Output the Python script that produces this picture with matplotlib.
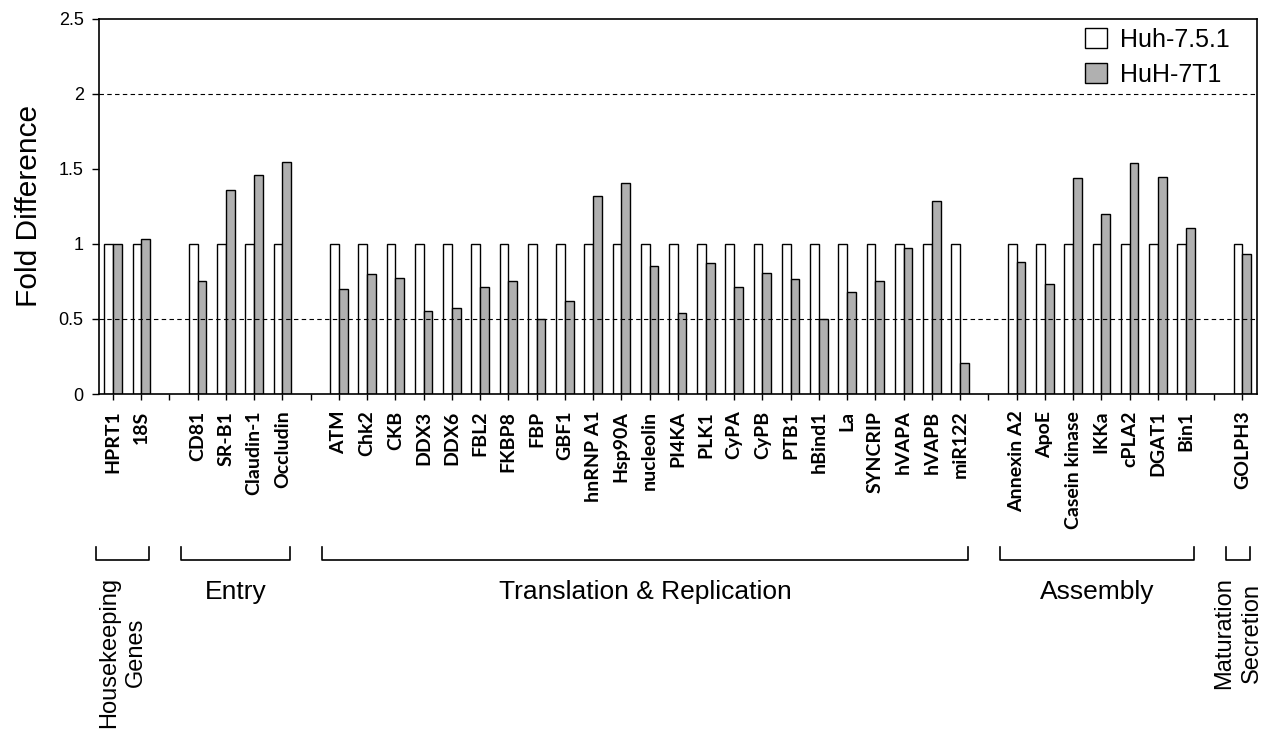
import numpy as np
import matplotlib.pyplot as plt

nan = np.nan

# gene slots, '' marks the empty gap between groups
genes = ['HPRT1', '18S', '',
         'CD81', 'SR-B1', 'Claudin-1', 'Occludin', '',
         'ATM', 'Chk2', 'CKB', 'DDX3', 'DDX6', 'FBL2', 'FKBP8', 'FBP', 'GBF1',
         'hnRNP A1', 'Hsp90A', 'nucleolin', 'PI4KA', 'PLK1', 'CyPA', 'CyPB',
         'PTB1', 'hBind1', 'La', 'SYNCRIP', 'hVAPA', 'hVAPB', 'miR122', '',
         'Annexin A2', 'ApoE', 'Casein kinase', 'IKKa', 'cPLA2', 'DGAT1', 'Bin1', '',
         'GOLPH3']

huh751 = [1.0, 1.0, nan,
          1.0, 1.0, 1.0, 1.0, nan,
          1.0, 1.0, 1.0, 1.0, 1.0, 1.0, 1.0, 1.0, 1.0,
          1.0, 1.0, 1.0, 1.0, 1.0, 1.0, 1.0,
          1.0, 1.0, 1.0, 1.0, 1.0, 1.0, 1.0, nan,
          1.0, 1.0, 1.0, 1.0, 1.0, 1.0, 1.0, nan,
          1.0]

huh7t1 = [1.00, 1.03, nan,
          0.755, 1.36, 1.46, 1.545, nan,
          0.70, 0.80, 0.775, 0.555, 0.57, 0.71, 0.753, 0.498, 0.622,
          1.32, 1.407, 0.853, 0.538, 0.869, 0.715, 0.804,
          0.767, 0.50, 0.678, 0.755, 0.975, 1.285, 0.207, nan,
          0.878, 0.731, 1.438, 1.20, 1.535, 1.442, 1.105, nan,
          0.929]

group_names = ['Housekeeping\nGenes', 'Entry', 'Translation & Replication',
               'Assembly', 'Maturation\nSecretion']
group_rot = [90, 0, 0, 0, 90]

# first/last slot of each group from the gaps
spans = []
start = 0
for i, g in enumerate(genes + ['']):
    if g == '':
        spans.append((start, i - 1))
        start = i + 1

plt.rcParams['font.family'] = ['Liberation Sans', 'DejaVu Sans']

fig = plt.figure(figsize=(12.68, 7.42), dpi=100)
ax = fig.add_axes([0.078, 0.469, 0.913, 0.506])

x = np.arange(len(genes))
w = 0.31
ax.bar(x - w / 2, huh751, w, color='white', edgecolor='black', linewidth=1.0,
       label='Huh-7.5.1', zorder=2)
ax.bar(x + w / 2, huh7t1, w, color='#b0b0b0', edgecolor='black', linewidth=1.0,
       label='HuH-7T1', zorder=2)

# reference lines
ax.axhline(0.5, color='black', linestyle=(0, (4, 3)), linewidth=0.8, zorder=3)
ax.axhline(2.0, color='black', linestyle=(0, (4, 3)), linewidth=0.8, zorder=3)

ax.set_xlim(-0.5, len(genes) - 0.5)
ax.set_ylim(0, 2.5)
ax.set_yticks([0, 0.5, 1, 1.5, 2, 2.5])
ax.set_yticklabels(['0', '0.5', '1', '1.5', '2', '2.5'], fontsize=13)
ax.set_xticks(x)
ax.set_xticklabels(genes, rotation=90, fontsize=14,
                   family=['Lato', 'DejaVu Sans'], fontweight='bold')
ax.tick_params(axis='x', length=4, width=1, pad=8)
ax.tick_params(axis='y', length=5, width=1, pad=6)
for s in ax.spines.values():
    s.set_linewidth(1.2)

ax.set_ylabel('Fold Difference', fontsize=21.5, labelpad=11)

ax.legend(loc='upper right', bbox_to_anchor=(0.99, 1.016), frameon=False,
          fontsize=18, handlelength=0.85, handleheight=0.85,
          handletextpad=0.55, labelspacing=0.45, borderaxespad=0.2)

# group brackets and labels under the gene names
tr = ax.get_xaxis_transform()
y_top, y_line = -0.407, -0.441
for (a, b), name, rot in zip(spans, group_names, group_rot):
    left, right = a - 0.6, b + 0.28
    ax.plot([left, left, right, right], [y_top, y_line, y_line, y_top],
            color='black', linewidth=1.2, transform=tr, clip_on=False)
    mid = (left + right) / 2
    if rot == 90:
        ax.text(mid, -0.488, name, rotation=90, ha='center', va='top',
                multialignment='center', fontsize=17, transform=tr,
                linespacing=1.3)
    else:
        ax.text(mid, -0.527, name, ha='center', va='center', fontsize=19,
                transform=tr)

plt.savefig('out.png', dpi=100)
